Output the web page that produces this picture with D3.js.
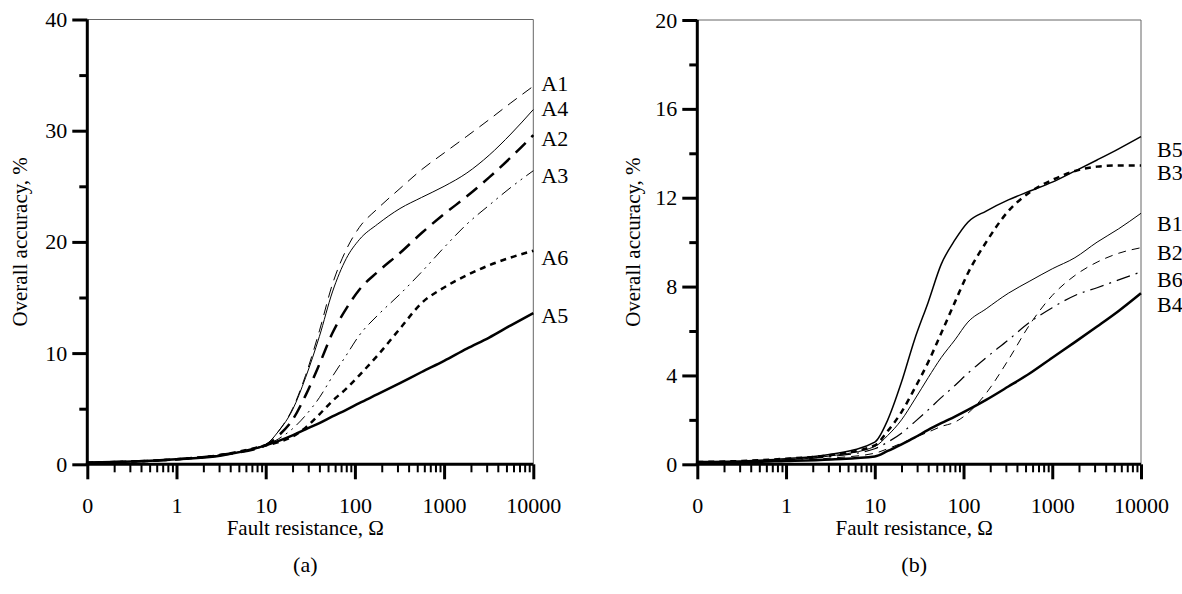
<!DOCTYPE html>
<html><head><meta charset="utf-8">
<script src="https://cdn.jsdelivr.net/npm/d3@7"></script>
<style>
body{margin:0;background:#fff;}
svg{display:block;}
svg text{font-family:"Liberation Serif","Times New Roman",Times,Tinos,"Noto Serif","DejaVu Serif",serif !important;fill:#000;}
</style></head>
<body>
<svg id="c" width="1182" height="594"></svg>
<script>
// Resistance grid (Ohm); 0.1 is shown as "0" on the axis
const resist = [0.1, 0.32, 1, 3.2, 10, 14, 20, 28, 40, 56, 80, 112, 180, 320, 560, 1000, 1800, 3200, 5600, 10000];
const xTickValues = [0.1, 1, 10, 100, 1000, 10000];
const xTickLabels = ["0", "1", "10", "100", "1000", "10000"];

// Panel (a)
const A1 = [0.15,0.25,0.45,0.85,1.8,3.0,5.0,8.0,12.0,16.2,19.3,21.3,23.0,24.8,26.5,28.0,29.5,31.0,32.5,34.0];
const A4 = [0.15,0.25,0.45,0.85,1.8,3.0,4.9,7.8,11.5,15.5,18.5,20.2,21.6,23.0,24.0,25.0,26.2,27.8,29.7,31.9];
const A2 = [0.15,0.25,0.45,0.85,1.7,2.6,4.0,6.2,9.0,11.8,14.0,15.7,17.3,19.0,20.8,22.5,24.1,25.8,27.6,29.6];
const A3 = [0.15,0.25,0.45,0.85,1.7,2.3,3.2,4.4,6.0,7.9,9.8,11.6,13.4,15.3,17.3,19.5,21.6,23.3,24.9,26.4];
const A6 = [0.15,0.25,0.45,0.85,1.7,2.0,2.5,3.3,4.5,5.7,6.8,8.0,9.8,12.2,14.5,15.9,17.0,17.9,18.6,19.2];
const A5 = [0.15,0.25,0.45,0.8,1.7,2.1,2.6,3.15,3.7,4.3,4.9,5.5,6.3,7.3,8.3,9.3,10.4,11.4,12.5,13.6];
const aNames = ["A1","A4","A2","A3","A6","A5"];
const aLabelPos = [34.3, 32.0, 29.3, 26.0, 18.6, 13.4];
const aYTicks = [0, 10, 20, 30, 40];
const aYMinor = [5, 15, 25, 35];

// Panel (b)
const B5 = [0.1,0.15,0.25,0.45,1.0,2.0,3.7,5.6,7.3,9.0,10.1,10.9,11.4,11.9,12.3,12.7,13.2,13.7,14.2,14.75];
const B3 = [0.1,0.15,0.25,0.42,0.85,1.5,2.35,3.4,4.6,5.9,7.3,8.6,10.0,11.4,12.25,12.8,13.2,13.4,13.45,13.45];
const B1 = [0.1,0.12,0.2,0.38,0.8,1.3,2.0,2.9,3.9,4.8,5.6,6.4,7.0,7.7,8.25,8.8,9.3,10.0,10.6,11.3];
const B2 = [0.1,0.1,0.15,0.28,0.5,0.7,0.95,1.2,1.45,1.7,1.9,2.3,3.2,4.7,6.3,7.6,8.5,9.1,9.5,9.75];
const B6 = [0.1,0.12,0.2,0.35,0.7,1.0,1.4,1.9,2.45,3.0,3.55,4.1,4.8,5.6,6.4,7.05,7.6,7.95,8.3,8.66];
const B4 = [0.1,0.1,0.15,0.22,0.35,0.6,0.9,1.2,1.55,1.85,2.15,2.45,2.9,3.5,4.1,4.8,5.5,6.2,6.9,7.7];
const bNames = ["B5","B3","B1","B2","B6","B4"];
const bLabelPos = [14.2, 13.15, 10.87, 9.56, 8.35, 7.2];
const bYTicks = [0, 4, 8, 12, 16, 20];
const bYMinor = [2, 6, 10, 14, 18];

const styleA = {
  A1:{w:1, dash:"11,7"}, A4:{w:1, dash:null}, A2:{w:2.5, dash:"14,8"},
  A3:{w:1, dash:"12,5,2,5,2,5"}, A6:{w:2.5, dash:"6,5"}, A5:{w:2.5, dash:null}
};
const styleB = {
  B5:{w:1.5, dash:null}, B3:{w:2.5, dash:"6,5"}, B1:{w:1, dash:null},
  B2:{w:1, dash:"8,6"}, B6:{w:1.2, dash:"14,6,2,6"}, B4:{w:2.5, dash:null}
};

const minorX = [];
for (let e = -1; e < 4; e++) for (let k = 2; k <= 9; k++) minorX.push(k * Math.pow(10, e));

const svg = d3.select("#c");
const FS = 22;

function panel(cfg){
  const g = svg.append("g");
  const x = d3.scaleLog().domain([0.1, 10000]).range([cfg.x0, cfg.x1]);
  const y = d3.scaleLinear().domain([0, cfg.ymax]).range([cfg.yb, cfg.yt]);

  // frame top/right
  g.append("line").attr("x1", cfg.x0).attr("x2", cfg.x1).attr("y1", cfg.yt).attr("y2", cfg.yt)
    .attr("stroke", "#666").attr("stroke-width", 1);
  g.append("line").attr("x1", cfg.x1).attr("x2", cfg.x1).attr("y1", cfg.yt).attr("y2", cfg.yb)
    .attr("stroke", "#666").attr("stroke-width", 1);

  // series
  const line = d3.line().x((d, i) => x(resist[i])).y(d => y(d)).curve(d3.curveMonotoneX);
  cfg.series.forEach((s, i) => {
    const st = cfg.styles[cfg.names[i]];
    g.append("path").datum(s).attr("d", line).attr("fill", "none")
      .attr("stroke", "#000").attr("stroke-width", st.w)
      .attr("stroke-dasharray", st.dash);
  });

  // minor x ticks
  const xm = g.append("g").attr("transform", `translate(0,${cfg.yb})`)
    .call(d3.axisBottom(x).tickValues(minorX).tickSize(8).tickFormat(""));
  xm.select(".domain").remove();
  xm.selectAll("line").attr("stroke", "#000").attr("stroke-width", 2);

  // major x ticks
  const xa = g.append("g").attr("transform", `translate(0,${cfg.yb})`)
    .call(d3.axisBottom(x).tickValues(xTickValues).tickSize(15).tickPadding(18)
      .tickFormat((d, i) => xTickLabels[i]));
  xa.attr("font-family", null);
  xa.select(".domain").attr("stroke", "#000").attr("stroke-width", 3).attr("d", `M${cfg.x0 - 1.5},0H${cfg.x1}`);
  xa.selectAll("line").attr("stroke", "#000").attr("stroke-width", 3);
  xa.selectAll("text").attr("font-size", FS);

  // y minor
  const ym = g.append("g").attr("transform", `translate(${cfg.x0},0)`)
    .call(d3.axisLeft(y).tickValues(cfg.yMinor).tickSize(8).tickFormat(""));
  ym.select(".domain").remove();
  ym.selectAll("line").attr("stroke", "#000").attr("stroke-width", 3);

  // y major
  const ya = g.append("g").attr("transform", `translate(${cfg.x0},0)`)
    .call(d3.axisLeft(y).tickValues(cfg.yTicks).tickSize(15).tickPadding(5));
  ya.attr("font-family", null);
  ya.select(".domain").attr("stroke", "#000").attr("stroke-width", 3).attr("d", `M0,${cfg.yt}V${cfg.yb}`);
  ya.selectAll("line").attr("stroke", "#000").attr("stroke-width", 3);
  ya.selectAll("text").attr("font-size", FS);

  // series labels
  cfg.names.forEach((n, i) => {
    g.append("text").attr("x", cfg.x1 + cfg.lblOff).attr("y", y(cfg.labelPos[i])).attr("dy", "0.35em")
      .attr("font-size", FS).text(n);
  });

  // axis titles
  const cx = (cfg.x0 + cfg.x1) / 2 - 5;
  g.append("text").attr("x", cx).attr("y", 535).attr("text-anchor", "middle").attr("font-size", FS - 1)
    .text("Fault resistance, Ω");
  g.append("text").attr("x", cx).attr("y", 572).attr("text-anchor", "middle").attr("font-size", FS)
    .text(cfg.tag);
  g.append("text").attr("transform", `translate(${cfg.ytx},${(cfg.yt + cfg.yb) / 2}) rotate(-90)`)
    .attr("text-anchor", "middle").attr("font-size", FS - 1).text("Overall accuracy, %");
}

panel({x0:87.3, x1:533.3, yt:19.5, yb:464.3, ymax:40, series:[A1,A4,A2,A3,A6,A5], names:aNames,
  styles:styleA, labelPos:aLabelPos, yTicks:aYTicks, yMinor:aYMinor, tag:"(a)", ytx:27, lblOff:8});
panel({x0:697.3, x1:1141, yt:20, yb:464.3, ymax:20, series:[B5,B3,B1,B2,B6,B4], names:bNames,
  styles:styleB, labelPos:bLabelPos, yTicks:bYTicks, yMinor:bYMinor, tag:"(b)", ytx:640, lblOff:16});
</script>
</body></html>
